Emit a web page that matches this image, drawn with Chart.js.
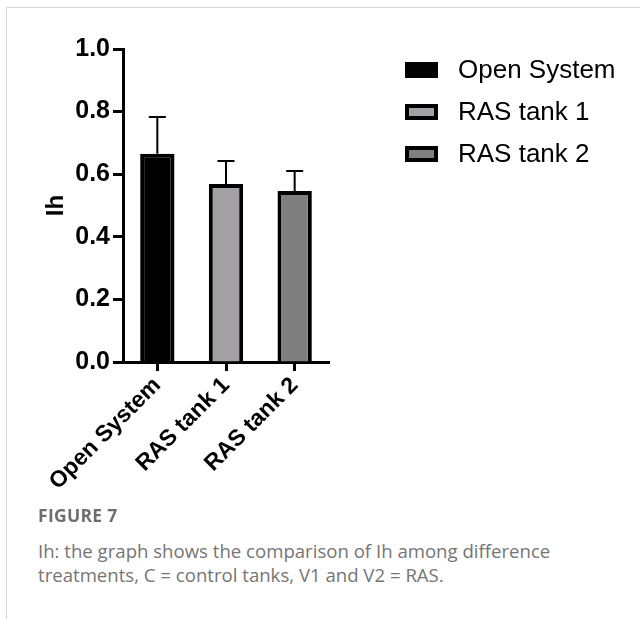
<!DOCTYPE html>
<html>
<head>
<meta charset="utf-8">
<script src="https://cdn.jsdelivr.net/npm/chart.js@4.4.0/dist/chart.umd.min.js"></script>
<style>
  html, body { margin: 0; padding: 0; background: #fff; }
  body { width: 640px; height: 619px; position: relative; overflow: hidden; }
  .frame { position: absolute; left: 6px; top: 7px; right: 0; bottom: 0; border-top: 1px solid #d6d6d6; border-left: 1px solid #d6d6d6; }
  #wrap { position: absolute; left: 0; top: 0; width: 640px; height: 505px; }
  .fig { position: absolute; left: 38px; top: 503px; font-family: "Open Sans", sans-serif; font-weight: bold; font-size: 17.5px; color: #6f6f6f; letter-spacing: 0.3px; }
  .cap { position: absolute; left: 38px; top: 539px; font-family: "Open Sans", sans-serif; font-size: 18.6px; line-height: 24px; color: #757575; }
</style>
</head>
<body>
<div class="frame"></div>
<div id="wrap"><canvas id="c"></canvas></div>
<div class="fig">FIGURE 7</div>
<div class="cap">Ih: the graph shows the comparison of Ih among difference<br>treatments, C = control tanks, V1 and V2 = RAS.</div>
<script>
const labels = ['Open System', 'RAS tank 1', 'RAS tank 2'];
const means = [0.665, 0.569, 0.546];
const errors = [0.118, 0.073, 0.064];
const colors = ['#000000', '#a59fa6', '#7f7f7f'];
const yTicks = [0, 0.2, 0.4, 0.6, 0.8, 1.0];

const errorBars = {
  id: 'errorBars',
  afterDatasetsDraw(chart) {
    const ctx = chart.ctx;
    const x = chart.scales.x, y = chart.scales.y;
    ctx.save();
    ctx.strokeStyle = '#000';
    ctx.lineWidth = 2;
    means.forEach((m, i) => {
      const cx = x.getPixelForValue(i);
      const top = y.getPixelForValue(m + errors[i]);
      const base = y.getPixelForValue(m);
      ctx.beginPath();
      ctx.moveTo(cx, base);
      ctx.lineTo(cx, top);
      ctx.moveTo(cx - 8.5, top);
      ctx.lineTo(cx + 8.5, top);
      ctx.stroke();
    });
    ctx.restore();
  }
};

const sideLegend = {
  id: 'sideLegend',
  afterDraw(chart) {
    const ctx = chart.ctx;
    ctx.save();
    ctx.font = '26px "Liberation Sans", Arial, sans-serif';
    ctx.textBaseline = 'middle';
    labels.forEach((lab, i) => {
      const yy = 70 + i * 42;
      ctx.fillStyle = '#000';
      ctx.fillRect(405, yy - 8, 33, 16);
      if (i > 0) {
        ctx.fillStyle = colors[i];
        ctx.fillRect(409, yy - 4, 25, 8);
      }
      ctx.fillStyle = '#000';
      ctx.fillText(lab, 458, yy + 1);
    });
    ctx.restore();
  }
};

new Chart(document.getElementById('c'), {
  type: 'bar',
  data: {
    labels: labels,
    datasets: [{
      data: means,
      backgroundColor: colors,
      borderColor: '#000',
      borderWidth: 4,
      borderSkipped: 'start',
      barPercentage: 0.5,
      categoryPercentage: 1
    }]
  },
  options: {
    responsive: true,
    maintainAspectRatio: false,
    animation: false,
    layout: { padding: { top: 49, right: 311, left: 0, bottom: 0 } },
    plugins: { legend: { display: false }, tooltip: { enabled: false } },
    scales: {
      x: {
        afterFit(s) { s.height = 143; },
        grid: { offset: false, drawOnChartArea: false, drawTicks: true, tickLength: 9, tickWidth: 3, color: '#000' },
        border: { color: '#000', width: 3 },
        ticks: {
          color: '#000', maxRotation: 45, minRotation: 45, padding: 1,
          font: { family: '"Liberation Sans", Arial, sans-serif', size: 23, weight: 'bold' }
        }
      },
      y: {
        min: 0, max: 1,
        afterFit(s) { s.width = 123; },
        afterBuildTicks(s) { s.ticks = yTicks.map(v => ({ value: v })); },
        grid: { drawOnChartArea: false, drawTicks: true, tickLength: 10, tickWidth: 3, color: '#000' },
        border: { color: '#000', width: 3 },
        title: {
          display: true, text: 'Ih', color: '#000', padding: { top: 42, bottom: 0 },
          font: { family: '"Liberation Sans", Arial, sans-serif', size: 24, weight: 'bold' }
        },
        ticks: {
          color: '#000', padding: 3,
          callback: v => v.toFixed(1),
          font: { family: '"Liberation Sans", Arial, sans-serif', size: 25, weight: 'bold' }
        }
      }
    }
  },
  plugins: [errorBars, sideLegend]
});
</script>
</body>
</html>
